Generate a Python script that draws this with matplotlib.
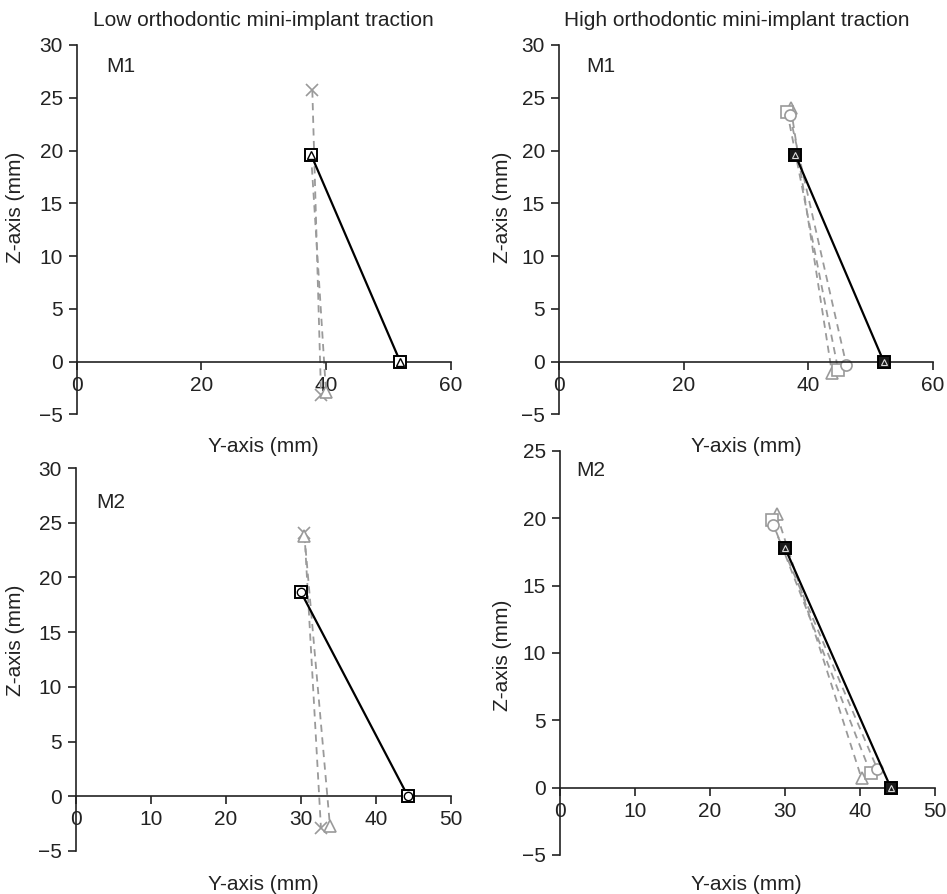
import matplotlib
matplotlib.use("Agg")
import matplotlib.pyplot as plt

plt.rcParams['font.family'] = ['Liberation Sans', 'DejaVu Sans']

# ---------------- data (Y-axis mm, Z-axis mm) ----------------
# Panel A: Low traction, M1
a_init_y = [37.6, 51.9]; a_init_z = [19.6, 0.0]
a_x_y = [37.8, 39.2];    a_x_z = [25.7, -3.15]
a_tri_y = [37.6, 40.0];  a_tri_z = [19.6, -2.9]

# Panel B: High traction, M1
b_init_y = [37.9, 52.1]; b_init_z = [19.6, 0.0]
b_tri_y = [37.2, 43.8];  b_tri_z = [24.0, -1.1]
b_sq_y = [36.6, 44.8];   b_sq_z = [23.7, -0.8]
b_ci_y = [37.0, 46.1];   b_ci_z = [23.4, -0.3]

# Panel C: Low traction, M2
c_init_y = [30.0, 44.3]; c_init_z = [18.7, 0.0]
c_x_y = [30.5, 32.7];    c_x_z = [24.1, -2.9]
c_tri_y = [30.5, 33.9];  c_tri_z = [23.8, -2.7]

# Panel D: High traction, M2
d_init_y = [30.0, 44.1]; d_init_z = [17.8, 0.0]
d_tri_y = [28.9, 40.2];  d_tri_z = [20.3, 0.7]
d_sq_y = [28.2, 41.4];   d_sq_z = [19.9, 1.1]
d_ci_y = [28.4, 42.3];   d_ci_z = [19.5, 1.4]

titles = ["Low orthodontic mini-implant traction", "High orthodontic mini-implant traction"]
panel_tags = ["M1", "M1", "M2", "M2"]
x_label = "Y-axis (mm)"
y_label = "Z-axis (mm)"

W, H = 947, 894
fig = plt.figure(figsize=(W / 100, H / 100), dpi=100)

def px_rect(x0, y_top, x1, y_bot):
    return [x0 / W, 1 - y_bot / H, (x1 - x0) / W, (y_bot - y_top) / H]

GRAY = '#9a9a9a'
FS = 15

def style(ax, xmax, xstep, ymax):
    ax.set_xlim(0, xmax)
    ax.set_ylim(-5, ymax)
    ax.set_xticks(range(0, xmax + 1, xstep))
    ax.set_yticks(range(-5, ymax + 1, 5))
    ax.spines['top'].set_visible(False)
    ax.spines['right'].set_visible(False)
    ax.spines['bottom'].set_position(('data', 0))
    for s in ['left', 'bottom']:
        ax.spines[s].set_linewidth(1.2)
        ax.spines[s].set_color('#222222')
    ax.tick_params(axis='both', direction='out', length=6, width=1.2,
                   labelsize=FS, pad=4, color='#222222', labelcolor='#222222')
    ax.patch.set_alpha(0)

def init_line(ax, y, z, extra, dark=False):
    ax.plot(y, z, color='black', lw=1.6, marker='s', ms=8,
            mfc='#1a1a1a' if dark else 'white', mec='black', mew=1.4, zorder=3)
    for m in extra:
        ax.plot(y, z, ls='none', marker=m, ms=5 if dark else 6, mfc='none',
                mec='#dddddd' if dark else 'black', mew=0.8 if dark else 1.0,
                zorder=4)

def disp_line(ax, y, z, m, ms=8):
    ax.plot(y, z, color=GRAY, lw=1.3, ls=(0, (4, 3)), marker=m, ms=ms,
            mfc='white' if m != 'x' else GRAY, mec=GRAY, mew=1.2, zorder=2)

# Panel A
axA = fig.add_axes(px_rect(76.7, 45, 450.7, 414.5))
style(axA, 60, 20, 30)
disp_line(axA, a_x_y, a_x_z, 'x')
disp_line(axA, a_tri_y, a_tri_z, '^')
init_line(axA, a_init_y, a_init_z, ['^'])

# Panel B
axB = fig.add_axes(px_rect(559, 45, 933, 414.5))
style(axB, 60, 20, 30)
disp_line(axB, b_tri_y, b_tri_z, '^')
disp_line(axB, b_sq_y, b_sq_z, 's')
disp_line(axB, b_ci_y, b_ci_z, 'o')
init_line(axB, b_init_y, b_init_z, ['^'], dark=True)

# Panel C
axC = fig.add_axes(px_rect(75.7, 468, 450.7, 851))
style(axC, 50, 10, 30)
disp_line(axC, c_x_y, c_x_z, 'x')
disp_line(axC, c_tri_y, c_tri_z, '^')
init_line(axC, c_init_y, c_init_z, ['o'])

# Panel D
axD = fig.add_axes(px_rect(560, 451, 935, 855))
style(axD, 50, 10, 25)
disp_line(axD, d_tri_y, d_tri_z, '^')
disp_line(axD, d_sq_y, d_sq_z, 's')
disp_line(axD, d_ci_y, d_ci_z, 'o')
init_line(axD, d_init_y, d_init_z, ['^'], dark=True)

def ftext(x, y, s, **kw):
    fig.text(x / W, 1 - y / H, s, fontsize=FS, color='#222222', **kw)

ftext(263.5, 21, titles[0], ha='center', va='center')
ftext(737, 21, titles[1], ha='center', va='center')

ftext(106, 67, panel_tags[0], ha='left', va='center')
ftext(586, 67, panel_tags[1], ha='left', va='center')
ftext(96, 502, panel_tags[2], ha='left', va='center')
ftext(576, 471, panel_tags[3], ha='left', va='center')

ftext(263.5, 447, x_label, ha='center', va='center')
ftext(746, 447, x_label, ha='center', va='center')
ftext(263.5, 885, x_label, ha='center', va='center')
ftext(746, 885, x_label, ha='center', va='center')

ftext(16, 207, y_label, ha='center', va='center', rotation=90)
ftext(503, 207, y_label, ha='center', va='center', rotation=90)
ftext(16, 640, y_label, ha='center', va='center', rotation=90)
ftext(503, 655, y_label, ha='center', va='center', rotation=90)

fig.savefig("out.png", dpi=100)
